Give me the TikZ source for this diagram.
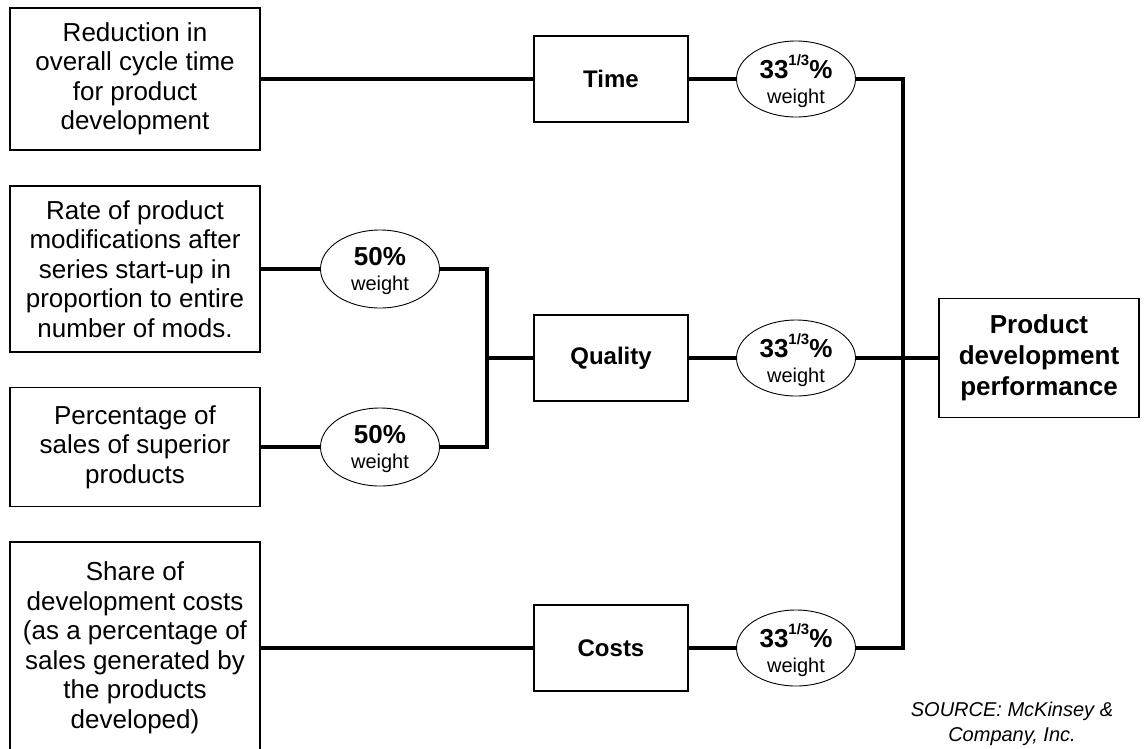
\documentclass[tikz,border=0pt]{standalone}
\usepackage{fontspec}
\setmainfont{Liberation Sans}
\usetikzlibrary{shapes.geometric}
\begin{document}
\begin{tikzpicture}[x=1pt,y=-1pt,
  srcbox/.style={draw,line width=1.2pt,minimum width=250pt,align=center,inner sep=0pt,
    font=\fontsize{26}{29.5}\selectfont},
  midbox/.style={draw,line width=1.2pt,minimum width=154pt,minimum height=86pt,inner sep=0pt,
    font=\fontsize{24}{28}\selectfont\bfseries},
  wt/.style={draw,ellipse,line width=0.9pt,minimum width=119pt,minimum height=78pt,inner sep=0pt},
  wtxt/.style={align=center,inner sep=0pt,font=\fontsize{20}{25}\selectfont},
  link/.style={line width=3.2pt,line join=miter}]
\useasboundingbox (0,0) rectangle (1145,748);

% measures on the left
\node[srcbox,minimum height=142pt] (m1) at (135,79)
  {Reduction in\\overall cycle time\\for product\\development};
\node[srcbox,minimum height=166pt] (m2) at (135,269)
  {Rate of product\\modifications after\\series start-up in\\proportion to entire\\number of mods.};
\node[srcbox,minimum height=119pt] (m3) at (135,447)
  {Percentage of\\sales of superior\\products};
\node[srcbox,minimum height=212pt] (m4) at (135,648)
  {Share of\\development costs\\(as a percentage of\\sales generated by\\the products\\developed)};

% weights of the two quality measures
\node[wt] (w1) at (380,269) {};
\node[wtxt] (w1t) at ([yshift=-2pt]w1.center)
  {{\fontsize{26}{26}\selectfont\bfseries 50\%}\\weight};
\node[wt] (w2) at (380,447) {};
\node[wtxt] (w2t) at ([yshift=-2pt]w2.center)
  {{\fontsize{26}{26}\selectfont\bfseries 50\%}\\weight};

% dimensions
\node[midbox] (time) at (611,79) {Time};
\node[midbox] (qual) at (611,358) {Quality};
\node[midbox] (cost) at (611,648) {Costs};

% weights of the three dimensions
\newcommand{\thirdwt}{{\fontsize{26}{26}\selectfont\bfseries 33\raisebox{0.5em}{\fontsize{15}{15}\selectfont 1/3}\%}\\weight}
\node[wt,minimum height=76pt] (t3) at (796,79) {};
\node[wtxt] (t3t) at ([yshift=-2pt]t3.center) {\thirdwt};
\node[wt,minimum height=76pt] (q3) at (796,358) {};
\node[wtxt] (q3t) at ([yshift=-2pt]q3.center) {\thirdwt};
\node[wt,minimum height=76pt] (c3) at (796,648) {};
\node[wtxt] (c3t) at ([yshift=-2pt]c3.center) {\thirdwt};

% overall result
\node[draw,line width=1.2pt,minimum width=200pt,minimum height=119pt,inner sep=0pt,align=center,
  font=\fontsize{26}{31}\selectfont\bfseries] (perf) at (1039,358)
  {Product\\development\\performance};

% junction points
\coordinate (jl) at (487,358);
\coordinate (jr) at (903,358);

% connectors
\draw[link] (m1.east) -- (time.west);
\draw[link] (m2.east) -- (w1.west);
\draw[link] (m3.east) -- (w2.west);
\draw[link] (m4.east) -- (cost.west);
\draw[link] (w1.east) -| (jl);
\draw[link] (w2.east) -| (jl);
\draw[link] (jl) -- (qual.west);
\draw[link] (time.east) -- (t3.west);
\draw[link] (qual.east) -- (q3.west);
\draw[link] (cost.east) -- (c3.west);
\draw[link] (t3.east) -| (jr);
\draw[link] (c3.east) -| (jr);
\draw[link] (q3.east) -- (jr) -- (perf.west);

% source note
\node[align=center,font=\fontsize{20}{25}\selectfont\itshape] (src) at (1012,724)
  {SOURCE: McKinsey \&\\Company, Inc.};
\end{tikzpicture}
\end{document}
